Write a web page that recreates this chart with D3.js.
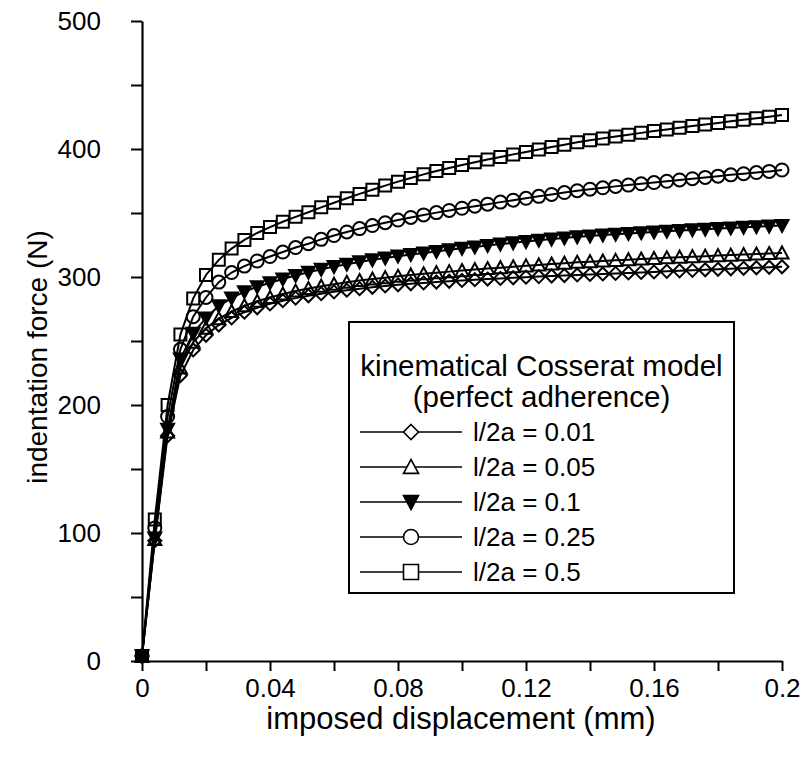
<!DOCTYPE html>
<html><head><meta charset="utf-8">
<script src="https://cdn.jsdelivr.net/npm/d3@7"></script>
<style>body{margin:0;background:#fff} text{font-family:Arial,"Liberation Sans",sans-serif;fill:#000}</style>
</head><body><svg id="c" width="803" height="764"></svg>
<script>
const displacement = [0,0.004,0.008,0.012,0.016,0.02,0.024,0.028,0.032,0.036,0.04,0.044,0.048,0.052,0.056,0.06,0.064,0.068,0.072,0.076,0.08,0.084,0.088,0.092,0.096,0.1,0.104,0.108,0.112,0.116,0.12,0.124,0.128,0.132,0.136,0.14,0.144,0.148,0.152,0.156,0.16,0.164,0.168,0.172,0.176,0.18,0.184,0.188,0.192,0.196,0.2];
const force_001 = [4,94,176,223,243,254.5,262.5,268,272.5,276,279,281.5,283.5,285.3,287,288.4,289.7,290.9,292,293,293.9,294.7,295.4,296.1,296.7,297.3,297.9,298.4,298.9,299.4,299.9,300.3,300.8,301.2,301.6,302,302.4,302.8,303.2,303.6,304,304.4,304.8,305.2,305.6,306,306.4,306.8,307.2,307.6,308];
const force_005 = [4,95,179,229,249,260,267.5,273,277.5,281,284,286.7,289,291,292.8,294.4,295.9,297.2,298.4,299.5,300.6,301.6,302.5,303.4,304.2,305,305.8,306.6,307.3,308,308.7,309.4,310.1,310.8,311.5,312,312.5,313,313.5,314,314.5,315,315.5,315.9,316.3,316.7,317.1,317.5,317.9,318.3,318.8];
const force_01 = [4,96,181,236,256,268,277.5,283.5,288.5,292.4,295.5,298.5,301.2,303.7,306,308.1,310,311.8,313.4,314.9,316.3,317.6,318.8,320,321.2,322.4,323.5,324.6,325.7,326.7,327.7,328.7,329.6,330.5,331.4,332.1,332.8,333.4,334,334.6,335.2,335.8,336.3,336.8,337.3,337.8,338.3,338.8,339.3,339.8,340.3];
const force_025 = [4,104,191,243.5,269,284,296,303.5,308.5,312.5,316,319.5,323,326,329.4,332.4,335.2,337.8,340.2,342.4,344.5,346.5,348.5,350.3,352,353.7,355.3,356.9,358.5,360,361.5,363,364.5,366,367.4,368.6,369.7,370.8,371.8,372.8,373.8,374.8,375.8,376.8,377.8,378.8,379.8,380.7,381.6,382.5,383.6];
const force_05 = [4,110.5,200,255,283.3,301.6,313.4,322.2,329,334.4,339,343.2,347,350.6,354.4,358,361.5,364.9,368.2,371.4,374.5,377.4,380.2,382.8,385.2,387.5,389.7,391.8,393.8,395.8,397.7,399.6,401.5,403.4,405.2,406.8,408.3,409.8,411.2,412.6,414,415.3,416.6,417.9,419.2,420.4,421.6,422.8,424,425.2,426.6];
const seriesLabels = ["l/2a = 0.01","l/2a = 0.05","l/2a = 0.1","l/2a = 0.25","l/2a = 0.5"];
const seriesMarkers = ["diamond","triangleUp","triangleDownFilled","circle","square"];
const legendTitle = ["kinematical Cosserat model","(perfect adherence)"];
const xTickValues = [0,0.02,0.04,0.06,0.08,0.1,0.12,0.14,0.16,0.18,0.2];
const xTickLabels = [0,0.04,0.08,0.12,0.16,0.2];
const yTickValues = [0,50,100,150,200,250,300,350,400,450,500];
const yTickLabels = [0,100,200,300,400,500];
const xTitle = "imposed displacement (mm)";
const yTitle = "indentation force (N)";

const allSeries = [force_001,force_005,force_01,force_025,force_05];

const svg = d3.select("#c");
const x = d3.scaleLinear().domain([0,0.2]).range([142,782]);
const y = d3.scaleLinear().domain([0,500]).range([661,21]);

function markerPath(type, size){
  const h = size/2;
  switch(type){
    case "diamond": return `M0,${-h}L${h},0L0,${h}L${-h},0Z`;
    case "triangleUp": return `M0,${-h}L${h},${h*0.85}L${-h},${h*0.85}Z`;
    case "triangleDownFilled": return `M0,${h}L${h},${-h*0.85}L${-h},${-h*0.85}Z`;
    case "circle": return `M${h},0A${h},${h} 0 1,1 ${-h},0A${h},${h} 0 1,1 ${h},0Z`;
    case "square": return `M${-h},${-h}H${h}V${h}H${-h}Z`;
  }
}

// axes
const yAxis = d3.axisLeft(y).tickValues(yTickValues).tickSize(11).tickSizeOuter(0).tickPadding(30)
  .tickFormat(d => yTickLabels.includes(d) ? String(d) : "");
const gy = svg.append("g").attr("transform","translate(142,0)").call(yAxis);
const xAxis = d3.axisBottom(x).tickValues(xTickValues).tickSize(10).tickSizeOuter(0).tickPadding(8)
  .tickFormat(d => xTickLabels.some(v=>Math.abs(v-d)<1e-9) ? String(+d.toFixed(2)) : "");
const gx = svg.append("g").attr("transform","translate(0,661)").call(xAxis);
[gx,gy].forEach(g=>{
  g.selectAll("path.domain").attr("stroke","#000").attr("stroke-width",2.2);
  g.selectAll(".tick line").attr("stroke","#000").attr("stroke-width",2);
  g.selectAll(".tick text").attr("font-size",26).attr("font-family","Arial, 'Liberation Sans', sans-serif").attr("fill","#000");
});

svg.append("text").attr("x",461).attr("y",729).attr("text-anchor","middle").attr("font-size",31).text(xTitle);
svg.append("text").attr("transform","translate(47,357) rotate(-90)").attr("text-anchor","middle").attr("font-size",28).text(yTitle);

// series
const line = d3.line().x((d,i)=>x(displacement[i])).y(d=>y(d));
allSeries.forEach((s,k)=>{
  svg.append("path").datum(s).attr("d",line).attr("fill","none").attr("stroke","#000").attr("stroke-width",2);
});
allSeries.forEach((s,k)=>{
  const filled = seriesMarkers[k]==="triangleDownFilled";
  svg.append("g").selectAll("path").data(s).join("path")
    .attr("transform",(d,i)=>`translate(${x(displacement[i])},${y(d)})`)
    .attr("d",markerPath(seriesMarkers[k], k===4?12:13))
    .attr("fill",filled?"#000":"none").attr("stroke","#000").attr("stroke-width",2);
});

// legend
const lg = svg.append("g");
lg.append("rect").attr("x",349).attr("y",322).attr("width",385).attr("height",271)
  .attr("fill","#fff").attr("stroke","#000").attr("stroke-width",2);
legendTitle.forEach((t,i)=>{
  lg.append("text").attr("x",541.5).attr("y",376+i*31).attr("text-anchor","middle").attr("font-size",29.5).text(t);
});
seriesLabels.forEach((lab,i)=>{
  const cy = 432+i*35;
  lg.append("line").attr("x1",360).attr("x2",462).attr("y1",cy).attr("y2",cy).attr("stroke","#000").attr("stroke-width",1.5);
  lg.append("path").attr("transform",`translate(411,${cy})`).attr("d",markerPath(seriesMarkers[i],15))
    .attr("fill",seriesMarkers[i]==="triangleDownFilled"?"#000":"#fff").attr("stroke","#000").attr("stroke-width",1.6);
  lg.append("text").attr("x",473).attr("y",cy+9).attr("font-size",26).text(lab);
});
</script></body></html>
